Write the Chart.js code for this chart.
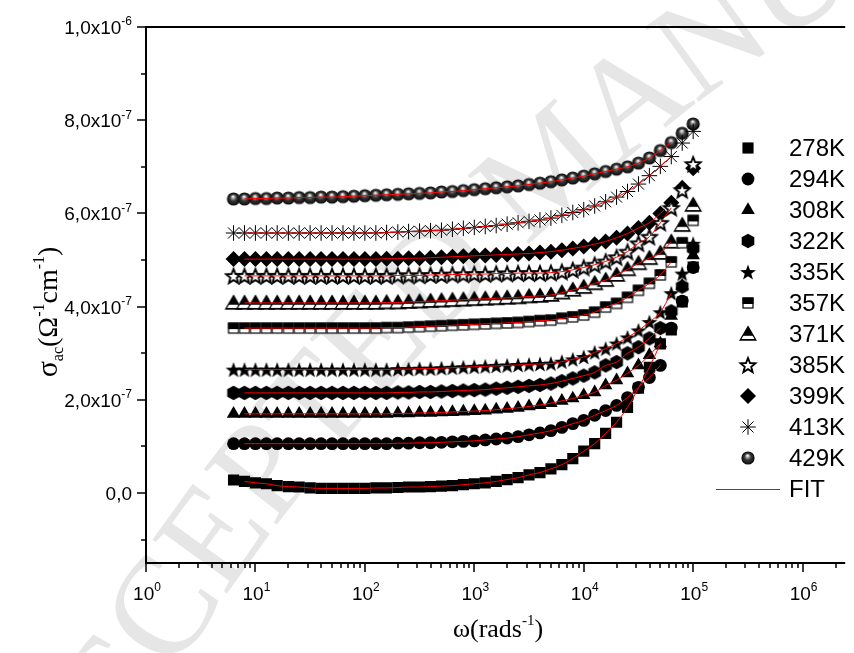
<!DOCTYPE html>
<html>
<head>
<meta charset="utf-8">
<script src="https://cdn.jsdelivr.net/npm/chart.js@4.4.1/dist/chart.umd.min.js"></script>
<style>
  html, body { margin: 0; padding: 0; background: #fff; overflow: hidden; }
  #wrap { width: 854px; height: 653px; }
</style>
</head>
<body>
<div id="wrap"><canvas id="sigma" width="854" height="653"></canvas></div>
<script>
(function () {
    // angular frequency (rad/s), same grid for every temperature
    const omega = [6.31, 7.94, 10, 12.6, 15.8, 20.0, 25.1, 31.6, 39.8, 50.1, 63.1, 79.4,
        100, 126, 158, 200, 251, 316, 398, 501, 631, 794, 1000, 1259, 1585, 1995,
        2512, 3162, 3981, 5012, 6310, 7943, 10000, 12589, 15849, 19953, 25119,
        31623, 39811, 50119, 63096, 79433, 100000];

    const temps = ['278K', '294K', '308K', '322K', '335K', '357K', '371K', '385K', '399K', '413K', '429K'];

    // sigma_ac in units of 1e-7 (Ohm^-1 cm^-1)
    const unit = 1e-7;
    const s278 = [0.28, 0.25, 0.22, 0.20, 0.16, 0.14, 0.13, 0.11, 0.10, 0.10, 0.10, 0.10, 0.10,
        0.11, 0.11, 0.12, 0.13, 0.13, 0.14, 0.15, 0.16, 0.18, 0.20, 0.22, 0.25, 0.29, 0.33,
        0.39, 0.44, 0.52, 0.61, 0.74, 0.90, 1.06, 1.28, 1.52, 1.84, 2.25, 2.70, 3.20, 3.50, 4.10, 4.85];
    const s294 = [1.06, 1.06, 1.06, 1.06, 1.06, 1.06, 1.06, 1.06, 1.06, 1.06, 1.06, 1.06, 1.06,
        1.06, 1.06, 1.07, 1.07, 1.08, 1.08, 1.09, 1.10, 1.11, 1.12, 1.14, 1.16, 1.18, 1.21,
        1.25, 1.29, 1.34, 1.41, 1.49, 1.56, 1.67, 1.77, 1.88, 2.05, 2.27, 2.48, 2.74, 3.54, 4.12, 4.84];
    const s308 = [1.70, 1.70, 1.70, 1.70, 1.70, 1.70, 1.70, 1.70, 1.70, 1.70, 1.70, 1.70, 1.70,
        1.70, 1.70, 1.71, 1.71, 1.72, 1.72, 1.73, 1.74, 1.75, 1.76, 1.77, 1.79, 1.81, 1.83,
        1.86, 1.89, 1.93, 1.98, 2.03, 2.10, 2.16, 2.31, 2.42, 2.57, 2.74, 2.96, 3.21, 3.80, 4.45, 5.10];
    const s322 = [2.15, 2.15, 2.15, 2.15, 2.15, 2.15, 2.15, 2.15, 2.15, 2.15, 2.15, 2.15, 2.15,
        2.15, 2.15, 2.16, 2.16, 2.17, 2.17, 2.18, 2.19, 2.20, 2.21, 2.22, 2.24, 2.26, 2.28,
        2.30, 2.32, 2.35, 2.40, 2.46, 2.52, 2.59, 2.74, 2.81, 3.00, 3.13, 3.32, 3.54, 3.90, 4.43, 5.25];
    const s335 = [2.65, 2.65, 2.65, 2.65, 2.65, 2.65, 2.65, 2.65, 2.65, 2.65, 2.65, 2.65, 2.65,
        2.65, 2.65, 2.66, 2.66, 2.67, 2.67, 2.68, 2.69, 2.70, 2.71, 2.72, 2.73, 2.74, 2.75,
        2.76, 2.77, 2.78, 2.82, 2.87, 2.92, 3.02, 3.10, 3.21, 3.34, 3.49, 3.67, 3.88, 4.29, 4.71, 5.35];
    const s357 = [3.54, 3.54, 3.54, 3.54, 3.54, 3.54, 3.54, 3.54, 3.54, 3.54, 3.54, 3.54, 3.54,
        3.54, 3.55, 3.55, 3.56, 3.57, 3.58, 3.59, 3.60, 3.61, 3.62, 3.63, 3.64, 3.65, 3.66,
        3.68, 3.70, 3.71, 3.75, 3.78, 3.82, 3.88, 3.99, 4.07, 4.20, 4.35, 4.50, 4.68, 4.96, 5.37, 5.85];
    const s371 = [4.08, 4.08, 4.08, 4.08, 4.08, 4.08, 4.08, 4.08, 4.08, 4.08, 4.08, 4.08, 4.08,
        4.08, 4.09, 4.09, 4.10, 4.11, 4.12, 4.13, 4.14, 4.15, 4.16, 4.17, 4.18, 4.19, 4.20,
        4.22, 4.23, 4.25, 4.30, 4.36, 4.42, 4.50, 4.57, 4.68, 4.80, 4.93, 5.04, 5.15, 5.39, 5.75, 6.18];
    const s385 = [4.66, 4.66, 4.66, 4.66, 4.66, 4.66, 4.66, 4.66, 4.66, 4.66, 4.66, 4.66, 4.66,
        4.66, 4.66, 4.67, 4.67, 4.67, 4.68, 4.68, 4.69, 4.69, 4.70, 4.70, 4.71, 4.71, 4.72,
        4.72, 4.72, 4.73, 4.75, 4.79, 4.84, 4.90, 4.97, 5.06, 5.18, 5.36, 5.50, 5.80, 6.12, 6.50, 7.06];
    const s399 = [5.02, 5.02, 5.02, 5.02, 5.02, 5.02, 5.02, 5.02, 5.02, 5.02, 5.02, 5.02, 5.02,
        5.02, 5.03, 5.03, 5.04, 5.04, 5.05, 5.06, 5.07, 5.08, 5.09, 5.10, 5.11, 5.12, 5.13,
        5.14, 5.16, 5.18, 5.21, 5.25, 5.29, 5.34, 5.40, 5.48, 5.57, 5.69, 5.80, 6.00, 6.23, 6.55, 6.97];
    const s413 = [5.58, 5.58, 5.58, 5.58, 5.58, 5.58, 5.58, 5.58, 5.58, 5.58, 5.58, 5.58, 5.58,
        5.58, 5.59, 5.60, 5.61, 5.62, 5.63, 5.64, 5.66, 5.68, 5.70, 5.72, 5.74, 5.77, 5.80,
        5.83, 5.86, 5.90, 5.96, 6.02, 6.08, 6.16, 6.25, 6.35, 6.47, 6.63, 6.81, 7.01, 7.22, 7.51, 7.76];
    const s429 = [6.31, 6.31, 6.32, 6.32, 6.33, 6.33, 6.34, 6.34, 6.35, 6.35, 6.36, 6.37, 6.38,
        6.39, 6.40, 6.41, 6.42, 6.43, 6.44, 6.46, 6.47, 6.49, 6.51, 6.53, 6.55, 6.57, 6.59,
        6.62, 6.65, 6.68, 6.72, 6.76, 6.80, 6.85, 6.90, 6.95, 7.00, 7.08, 7.19, 7.35, 7.52, 7.72, 7.92];
    const series = [s278, s294, s308, s322, s335, s357, s371, s385, s399, s413, s429];

    // the fitted curves run from the 2nd point up to this index
    const fitLast = [39, 39, 39, 39, 40, 40, 40, 40, 40, 40, 40];

    // axis ticks
    const xMajor = [1, 10, 100, 1000, 10000, 100000, 1000000];
    const xMajorExp = ['0', '1', '2', '3', '4', '5', '6'];
    const yMajor = [0, 2e-7, 4e-7, 6e-7, 8e-7, 1e-6];
    const yMajorBase = ['0,0', '2,0x10', '4,0x10', '6,0x10', '8,0x10', '1,0x10'];
    const yMajorExp = ['', '-7', '-7', '-7', '-7', '-6'];
    const yMinor = [-1e-7, 1e-7, 3e-7, 5e-7, 7e-7, 9e-7];

    const stamp = 'ACCEPTED MANUSCRIPT';

    const SANS = '"Liberation Sans", Arial, sans-serif';
    const SERIF = '"Liberation Serif", "Times New Roman", serif';

    // ---- marker symbols ----
    function symbol(size, paint) {
        const c = document.createElement('canvas');
        c.width = size;
        c.height = size;
        paint(c.getContext('2d'), size / 2);
        return c;
    }
    function starPath(g, c, ro, ri) {
        g.beginPath();
        for (let k = 0; k < 10; k++) {
            const r = k % 2 ? ri : ro;
            const a = -Math.PI / 2 + k * Math.PI / 5;
            const px = c + r * Math.cos(a), py = c + 0.8 + r * Math.sin(a);
            if (k === 0) g.moveTo(px, py); else g.lineTo(px, py);
        }
        g.closePath();
    }
    const hexagon = symbol(18, function (g, c) {
        g.beginPath();
        for (let k = 0; k < 6; k++) {
            const a = -Math.PI / 2 + k * Math.PI / 3;
            g.lineTo(c + 7.3 * Math.cos(a), c + 7.3 * Math.sin(a));
        }
        g.closePath();
        g.fillStyle = '#000';
        g.fill();
    });
    const fullStar = symbol(20, function (g, c) {
        starPath(g, c, 8.4, 3.4);
        g.fillStyle = '#000';
        g.fill();
    });
    const openStar = symbol(20, function (g, c) {
        starPath(g, c, 7.8, 3.4);
        g.fillStyle = '#fff';
        g.fill();
        g.lineWidth = 1.9;
        g.strokeStyle = '#000';
        g.stroke();
    });
    const halfSquare = symbol(16, function (g, c) {
        g.fillStyle = '#fff';
        g.fillRect(c - 5.5, c - 5.5, 11, 11);
        g.fillStyle = '#000';
        g.fillRect(c - 5.5, c - 5.5, 11, 6.5);
        g.strokeStyle = '#000';
        g.lineWidth = 1.2;
        g.strokeRect(c - 5, c - 5, 10, 10);
    });
    const halfTriangle = symbol(20, function (g, c) {
        g.beginPath();
        g.moveTo(c, c - 7.3);
        g.lineTo(c + 7.8, c + 6);
        g.lineTo(c - 7.8, c + 6);
        g.closePath();
        g.fillStyle = '#000';
        g.fill();
        g.save();
        g.clip();
        g.fillStyle = '#fff';
        g.fillRect(c - 9, c + 1.8, 18, 3.3);
        g.restore();
        g.lineWidth = 1.3;
        g.strokeStyle = '#000';
        g.stroke();
    });
    const ball = symbol(18, function (g, c) {
        const grad = g.createRadialGradient(c - 0.5, c - 2.6, 0.2, c, c + 0.5, 7);
        grad.addColorStop(0, '#ffffff');
        grad.addColorStop(0.16, '#b8b8b8');
        grad.addColorStop(0.45, '#3a3a3a');
        grad.addColorStop(1, '#000');
        g.beginPath();
        g.arc(c, c, 6.6, 0, Math.PI * 2);
        g.fillStyle = grad;
        g.fill();
    });

    const markers = [
        { pointStyle: 'rect', radius: 7.9, borderWidth: 0 },
        { pointStyle: 'circle', radius: 6.4, borderWidth: 0 },
        { pointStyle: 'triangle', radius: 7.8, borderWidth: 0 },
        { pointStyle: hexagon, radius: 7, borderWidth: 0 },
        { pointStyle: fullStar, radius: 7, borderWidth: 0 },
        { pointStyle: halfSquare, radius: 7, borderWidth: 0 },
        { pointStyle: halfTriangle, radius: 7, borderWidth: 0 },
        { pointStyle: openStar, radius: 7, borderWidth: 0 },
        { pointStyle: 'rectRot', radius: 8, borderWidth: 0 },
        { pointStyle: 'star', radius: 7.8, borderWidth: 1 },
        { pointStyle: ball, radius: 7, borderWidth: 0 }
    ];

    const datasets = [];
    series.forEach(function (vals, k) {
        datasets.push({
            label: temps[k] + ' fit',
            data: omega.slice(1, fitLast[k] + 1).map(function (w, i) {
                return { x: w, y: vals[i + 1] * unit };
            }),
            showLine: true,
            borderColor: '#ff0000',
            borderWidth: 1,
            pointRadius: 0,
            cubicInterpolationMode: 'monotone',
            order: 0
        });
    });
    series.forEach(function (vals, k) {
        const m = markers[k];
        datasets.push({
            label: temps[k],
            data: omega.map(function (w, i) {
                return { x: w, y: vals[i] * unit };
            }),
            showLine: false,
            pointStyle: m.pointStyle,
            pointRadius: m.radius,
            borderWidth: m.borderWidth,
            backgroundColor: '#000',
            borderColor: '#000',
            order: 1
        });
    });

    function textWithSup(ctx, base, sup, x, y, align, size) {
        ctx.font = size + 'px ' + SANS;
        const wb = ctx.measureText(base).width;
        ctx.font = Math.round(size * 0.63) + 'px ' + SANS;
        const ws = sup ? ctx.measureText(sup).width : 0;
        let left = x;
        if (align === 'right') left = x - wb - ws;
        if (align === 'center') left = x - (wb + ws) / 2;
        ctx.textAlign = 'left';
        ctx.textBaseline = 'alphabetic';
        ctx.font = size + 'px ' + SANS;
        ctx.fillText(base, left, y);
        if (sup) {
            ctx.font = Math.round(size * 0.63) + 'px ' + SANS;
            ctx.fillText(sup, left + wb, y - size * 0.45);
        }
    }

    // draws a run of [text, size, dy] pieces left to right
    function drawRun(ctx, parts, x, y) {
        let cx = x;
        parts.forEach(function (p) {
            ctx.font = p[1] + 'px ' + SERIF;
            ctx.fillText(p[0], cx, y + p[2]);
            cx += ctx.measureText(p[0]).width;
        });
    }
    function runWidth(ctx, parts) {
        let w = 0;
        parts.forEach(function (p) {
            ctx.font = p[1] + 'px ' + SERIF;
            w += ctx.measureText(p[0]).width;
        });
        return w;
    }

    // faint stamp lettered along a wide arc, lower left to upper right
    const stampPlugin = {
        id: 'stamp',
        beforeDatasetsDraw: function (chart) {
            const ctx = chart.ctx;
            const cx = 2012, cy = 1832, r = 2209;
            ctx.save();
            ctx.font = '140px ' + SERIF;
            ctx.fillStyle = '#e6e6e6';
            ctx.textAlign = 'center';
            ctx.textBaseline = 'middle';
            const widths = stamp.split('').map(function (ch) { return ctx.measureText(ch).width; });
            // centre of the third letter sits near the lower-left corner of the plot
            const anchor = Math.atan2(615 - cy, 170 - cx);
            let s = -(widths[0] + widths[1] + widths[2] / 2);
            stamp.split('').forEach(function (ch, i) {
                const th = anchor + (s + widths[i] / 2) / r;
                s += widths[i];
                ctx.save();
                ctx.translate(cx + r * Math.cos(th), cy + r * Math.sin(th));
                ctx.rotate(th + Math.PI / 2);
                ctx.fillText(ch, 0, 0);
                ctx.restore();
            });
            ctx.restore();
        }
    };

    const axesPlugin = {
        id: 'originAxes',
        afterDraw: function (chart) {
            const ctx = chart.ctx;
            const xs = chart.scales.x, ys = chart.scales.y;
            const a = chart.chartArea;
            ctx.save();
            ctx.fillStyle = '#000';
            ctx.strokeStyle = '#000';
            ctx.lineWidth = 2;
            ctx.beginPath();
            ctx.moveTo(a.right, a.top);
            ctx.lineTo(a.left, a.top);
            ctx.lineTo(a.left, a.bottom);
            ctx.lineTo(a.right, a.bottom);
            ctx.stroke();

            // y ticks, outward
            ctx.lineWidth = 1.5;
            ctx.beginPath();
            yMajor.forEach(function (v) {
                const py = Math.round(ys.getPixelForValue(v));
                ctx.moveTo(a.left, py);
                ctx.lineTo(a.left - 9, py);
            });
            yMinor.forEach(function (v) {
                const py = Math.round(ys.getPixelForValue(v));
                ctx.moveTo(a.left, py);
                ctx.lineTo(a.left - 5, py);
            });
            // x ticks, outward
            xMajor.forEach(function (v) {
                const px = Math.round(xs.getPixelForValue(v));
                ctx.moveTo(px, a.bottom);
                ctx.lineTo(px, a.bottom + 9);
            });
            for (let d = 1; d <= 1e6; d *= 10) {
                for (let m = 2; m <= 9; m++) {
                    const v = d * m;
                    if (v > xs.max) break;
                    const px = Math.round(xs.getPixelForValue(v));
                    ctx.moveTo(px, a.bottom);
                    ctx.lineTo(px, a.bottom + 5);
                }
            }
            ctx.stroke();

            yMajor.forEach(function (v, i) {
                const py = ys.getPixelForValue(v);
                textWithSup(ctx, yMajorBase[i], yMajorExp[i], a.left - 14, py + 7, 'right', 19);
            });
            xMajor.forEach(function (v, i) {
                const px = xs.getPixelForValue(v);
                textWithSup(ctx, '10', xMajorExp[i], px + 1, a.bottom + 37, 'center', 19);
            });

            // axis titles
            ctx.textAlign = 'left';
            ctx.textBaseline = 'alphabetic';
            const xTitle = [['\u03c9(rads', 26, 0], ['-1', 15, -12], [')', 26, 0]];
            drawRun(ctx, xTitle, 498 - runWidth(ctx, xTitle) / 2, 637);

            ctx.translate(57, 312);
            ctx.rotate(-Math.PI / 2);
            const yTitle = [['\u03c3', 30, 0], ['ac', 16, 6], ['(\u03a9', 28, 0], ['-1', 16, -13],
                ['cm', 28, 0], ['-1', 16, -13], [')', 28, 0]];
            drawRun(ctx, yTitle, -runWidth(ctx, yTitle) / 2, 0);
            ctx.restore();
        }
    };

    const legendPlugin = {
        id: 'sideLegend',
        afterDraw: function (chart) {
            const ctx = chart.ctx;
            ctx.save();
            ctx.font = '24px ' + SANS;
            ctx.textBaseline = 'middle';
            ctx.textAlign = 'left';
            temps.forEach(function (t, k) {
                const y = 148 + k * 31;
                const m = markers[k];
                ctx.fillStyle = '#000';
                ctx.strokeStyle = '#000';
                ctx.lineWidth = m.borderWidth;
                Chart.helpers.drawPoint(ctx, { pointStyle: m.pointStyle, radius: m.radius, rotation: 0, borderWidth: m.borderWidth }, 748, y);
                ctx.fillStyle = '#000';
                ctx.fillText(t, 789, y + 1);
            });
            const fy = 148 + temps.length * 31;
            ctx.strokeStyle = '#ff0000';
            ctx.lineWidth = 1;
            ctx.beginPath();
            ctx.moveTo(716, fy + 0.5);
            ctx.lineTo(780, fy + 0.5);
            ctx.stroke();
            ctx.fillText('FIT', 789, fy + 1);
            ctx.restore();
        }
    };

    new Chart(document.getElementById('sigma').getContext('2d'), {
        type: 'scatter',
        data: { datasets: datasets },
        options: {
            responsive: false,
            animation: false,
            events: [],
            layout: { padding: { left: 146, top: 27, right: 0, bottom: 90 } },
            plugins: {
                legend: { display: false },
                tooltip: { enabled: false }
            },
            scales: {
                x: { type: 'logarithmic', min: 1, max: 2.45e6, display: false },
                y: { type: 'linear', min: -1.5e-7, max: 1e-6, display: false }
            }
        },
        plugins: [stampPlugin, axesPlugin, legendPlugin]
    });
})();
</script>
</body>
</html>
